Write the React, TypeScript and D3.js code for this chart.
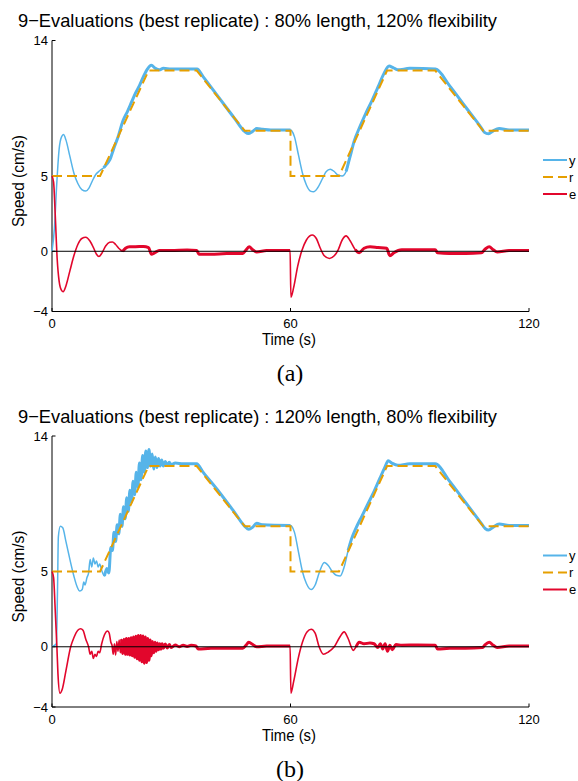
import React from 'react';
import * as d3 from 'd3';

type Pt = [number, number];

// reference speed r (same for both runs)
const refTrace: Pt[] = [
  [0, 5], [12.1, 5], [24.3, 12], [36.4, 12], [48.5, 8], [60, 8], [60, 5],
  [72.2, 5], [84.3, 12], [96.4, 12], [108.5, 8], [120, 8],
];

// (a) 80% length, 120% flexibility
const yTraceA: Pt[] = [
  [0, 0], [0.6, 1.5], [1.2, 4.5], [1.8, 6.8], [2.4, 7.6], [2.9, 7.75], [3.5, 7.4],
  [4.5, 6.3], [5.5, 5.2], [6.5, 4.5], [7.5, 4.1], [8.5, 4.0], [9.3, 4.2], [10.2, 4.7],
  [11.0, 5.1], [12.0, 5.35], [13.0, 5.55], [13.8, 5.8], [14.6, 6.1], [15.5, 6.8],
  [16.5, 7.5], [17.9, 8.7], [19.0, 9.3], [20.0, 9.9], [21.0, 10.5], [22.0, 11.0],
  [23.0, 11.6], [24.0, 12.1], [25.0, 12.35], [26.0, 12.15], [27, 12.05], [28, 12.15],
  [30, 12.1], [33, 12.1], [36.5, 12.1], [38, 11.6], [42, 10.2], [46, 8.8], [48.5, 7.95],
  [49.4, 7.82], [50.4, 7.95], [51.5, 8.15], [53, 8.1], [55, 8.05], [60, 8.05],
  [60.3, 8.0], [61, 7.6], [62, 6.4], [63, 5.2], [64, 4.4], [65, 4.0], [65.8, 3.95],
  [66.8, 4.2], [68, 4.8], [69, 5.3], [70, 5.45], [71, 5.3], [72, 5.05], [73, 5.0],
  [74, 5.3], [75, 6.3], [76, 7.3], [77.5, 8.3], [79, 9.2], [80.5, 10.0], [82, 10.9],
  [83.5, 11.8], [84.8, 12.3], [85.8, 12.2], [87, 12.05], [90, 12.15], [96.5, 12.1],
  [100, 11.0], [104, 9.6], [108, 8.2], [108.8, 7.9], [109.8, 7.8], [111, 8.0],
  [112.5, 8.15], [115, 8.05], [120, 8.05],
];

const eTraceA: Pt[] = [
  [0, 5], [0.4, 4.6], [0.8, 2.5], [1.3, -0.5], [1.8, -2.0], [2.4, -2.6], [2.8, -2.68],
  [3.5, -2.3], [4.5, -1.3], [5.5, -0.3], [6.5, 0.45], [7.5, 0.85], [8.5, 0.93],
  [9.5, 0.7], [10.5, 0.2], [11.2, -0.2], [11.8, -0.35], [12.5, -0.15], [13.5, 0.35],
  [14.5, 0.6], [15.2, 0.62], [16, 0.45], [17, 0.15], [17.8, 0.0], [18.5, 0.2],
  [19.5, 0.3], [21, 0.3], [23, 0.32], [24.3, 0.25], [25, -0.2], [25.8, -0.1],
  [27, 0.05], [30, 0.05], [34, 0.08], [36.4, 0.05], [37, -0.2], [40, -0.2],
  [44, -0.15], [48, -0.15], [48.7, 0.05], [49.6, 0.3], [50.5, 0.1], [51.5, -0.05],
  [54, 0.05], [59.9, 0.05],
  [60.1, -3.05], [60.8, -2.4], [61.8, -1.0], [62.8, 0.0], [64, 0.75], [65.5, 1.08],
  [66.5, 0.85], [67.5, 0.2], [68.5, -0.3], [69.8, -0.48], [71, -0.3], [72, 0.1],
  [73, 0.75], [74, 1.02], [75, 0.7], [76.3, 0.1], [77.3, -0.1], [78.5, 0.2], [80, 0.3],
  [82, 0.25], [84.2, 0.2], [85, -0.3], [86, -0.1], [88, 0.1], [92, 0.1], [96.4, 0.1],
  [97, -0.1], [100, -0.15], [104, -0.15], [108, -0.1], [109, 0.15], [110, 0.3],
  [111, 0.1], [112, -0.05], [115, 0.05], [120, 0.05],
];

// (b) 120% length, 80% flexibility
const yTraceB: Pt[] = [
  [0, 0], [1.1, 0.2], [1.4, 4.0], [1.6, 7.3], [2.1, 8.0], [2.7, 7.9], [3.5, 7.0],
  [4.5, 5.8], [5.5, 4.7], [6.3, 4.0], [7.0, 3.7], [7.6, 3.8], [8.0, 4.3], [8.3, 4.1],
  [8.8, 4.6], [9.2, 4.9], [9.6, 5.8], [10.0, 5.3], [10.4, 5.9], [10.8, 5.5],
  [11.2, 5.7], [11.6, 5.3], [12.0, 5.5], [12.6, 5.0], [13.2, 4.7], [13.8, 5.2],
  [14.3, 4.9], [14.8, 6.6], [15.2, 6.4], [15.6, 7.6], [16.0, 7.0], [16.4, 8.1],
  [16.8, 7.5], [17.2, 8.8], [17.6, 8.0], [18.0, 9.3], [18.4, 8.5], [18.8, 9.9],
  [19.2, 9.0], [19.6, 10.4], [20.0, 9.6], [20.4, 11.0], [20.8, 10.1], [21.2, 11.6],
  [21.6, 10.6], [22.0, 12.2], [22.4, 11.1], [22.8, 12.7], [23.2, 11.6], [23.6, 13.0],
  [24.0, 11.9], [24.4, 13.1], [24.8, 12.0], [25.2, 12.8], [25.6, 11.8], [26.0, 12.6],
  [26.4, 11.9], [26.8, 12.5], [27.2, 12.0], [27.6, 12.4], [28.0, 12.0], [28.5, 12.3],
  [29, 12.05], [29.5, 12.25], [30, 12.1], [31, 12.2], [33, 12.15], [36.4, 12.15],
  [38, 11.6], [42, 10.3], [46, 8.9], [48.5, 8.0], [49.5, 7.8], [50.5, 7.95],
  [51.5, 8.2], [53, 8.1], [60, 8.05],
  [60.3, 8.0], [61, 7.6], [62, 6.3], [63, 5.0], [64, 4.2], [65.2, 3.8], [66.2, 4.1],
  [67.2, 4.9], [68.5, 5.6], [69.5, 5.4], [70.5, 5.0], [71.5, 4.75], [72.5, 4.7],
  [73.5, 5.3], [74.5, 6.4], [75.4, 7.2], [76.5, 7.9], [78, 8.7], [79.5, 9.5],
  [81, 10.3], [82.5, 11.2], [83.7, 11.9], [84.6, 12.35], [85.5, 12.2], [87, 12.05],
  [90, 12.15], [96.4, 12.15], [100, 11.0], [104, 9.6], [108, 8.2], [109, 7.85],
  [109.8, 7.75], [111, 7.95], [112.5, 8.15], [115, 8.05], [120, 8.05],
];

const eTraceB: Pt[] = [
  [0, 5], [0.4, 4.6], [0.8, 2.5], [1.2, 0.2], [1.5, -1.8], [2.0, -3.08], [2.6, -2.8],
  [3.5, -1.6], [4.7, 0], [5.5, 0.6], [6.5, 1.1], [7.2, 1.2], [7.8, 1.1], [8.5, 0.5],
  [9.2, 0.0], [9.6, -0.5], [10.0, -0.3], [10.4, -0.77], [10.8, -0.5], [11.2, -0.65],
  [11.6, -0.3], [12.0, -0.4], [12.5, 0.2], [13.2, 0.8], [14.0, 1.05], [14.4, 0.9],
  [14.8, 0.3], [15.1, 0.1], [15.4, -0.5], [15.7, 0.2], [16.0, -0.55], [16.3, 0.35],
  [16.6, -0.3], [16.9, 0.45], [17.2, -0.4], [17.5, 0.5], [17.8, -0.45], [18.1, 0.5],
  [18.4, -0.5], [18.7, 0.55], [19.0, -0.5], [19.3, 0.55], [19.6, -0.55], [19.9, 0.6],
  [20.2, -0.6], [20.5, 0.65], [20.8, -0.7], [21.1, 0.7], [21.4, -0.8], [21.7, 0.75],
  [22.0, -0.9], [22.3, 0.75], [22.6, -1.0], [22.9, 0.72], [23.2, -1.1], [23.5, 0.65],
  [23.8, -1.05], [24.1, 0.55], [24.4, -0.9], [24.7, 0.45], [25.0, -0.6], [25.3, 0.35],
  [25.6, -0.4], [25.9, 0.3], [26.2, -0.3], [26.5, 0.25], [26.8, -0.2], [27.1, 0.2],
  [27.4, -0.15], [27.7, 0.2], [28, -0.1], [28.5, 0.18], [29, -0.08], [29.5, 0.15],
  [30, -0.05], [31, 0.12], [32, 0.0], [33, 0.1], [34, 0.02], [35, 0.1], [36.2, 0.05],
  [36.8, -0.15], [40, -0.1], [44, -0.1], [48, -0.1], [48.8, 0.1], [49.5, 0.3],
  [50.5, 0.15], [51.5, 0.0], [54, 0.05], [59.9, 0.05],
  [60.1, -3.08], [60.8, -2.3], [62, -0.7], [63, 0.3], [64.2, 1.0], [65.2, 1.16],
  [66.2, 0.9], [67.2, 0.0], [68.3, -0.5], [69.5, -0.35], [71, 0.0], [72.3, 0.6],
  [73.5, 0.99], [74.5, 0.55], [75.8, -0.24], [76.5, 0.0], [77.3, 0.3], [78.5, 0.2],
  [80, 0.25], [81, 0.2], [82, -0.05], [82.6, 0.2], [83.2, -0.15], [83.8, 0.2],
  [84.4, -0.3], [85, 0.1], [85.6, -0.2], [86.5, 0.15], [88, 0.1], [92, 0.12],
  [96.4, 0.1], [97, -0.15], [100, -0.1], [104, -0.1], [108.3, -0.05], [109, 0.15],
  [110, 0.3], [111, 0.1], [112, -0.05], [115, 0.05], [120, 0.05],
];

const xTicks = [0, 60, 120];
const yTicks = [-4, 0, 5, 14];
const legendLabels = ['y', 'r', 'e'];

const BLUE = '#56B4E9';
const ORANGE = '#E69F00';
const RED = '#E2062C';
const SANS = '"Liberation Sans", Arial, Helvetica, sans-serif';

// thick (noisy) parts of the traces
const yBand = (t: number) => (t >= 13 && t <= 60) || t >= 74;
const eBand = (t: number) => (t >= 17.5 && t <= 60) || t >= 76;

const Panel = ({ dy, title, tag, yTrace, eTrace }:
  { dy: number; title: string; tag: string; yTrace: Pt[]; eTrace: Pt[] }) => {
  const x = d3.scaleLinear().domain([0, 120]).range([52, 529]);
  const y = d3.scaleLinear().domain([-4, 14]).range([311.5 + dy, 40.5 + dy]);
  const line = d3.line<Pt>().x((d) => x(d[0])).y((d) => y(d[1]));
  const smooth = d3.line<Pt>().curve(d3.curveMonotoneX).x((d) => x(d[0])).y((d) => y(d[1]));
  const bandY = smooth.copy ? smooth : smooth;
  const thickY = d3.line<Pt>().curve(d3.curveMonotoneX).defined((d) => yBand(d[0]))
    .x((d) => x(d[0])).y((d) => y(d[1]));
  const thickE = d3.line<Pt>().curve(d3.curveMonotoneX).defined((d) => eBand(d[0]))
    .x((d) => x(d[0])).y((d) => y(d[1]));
  const [x0, x1] = x.range();
  const [yb, yt] = y.range();
  const legendY = [160 + dy, 177 + dy, 194 + dy];
  const legendColor = [BLUE, ORANGE, RED];

  return (
    <g>
      <text x={18} y={27 + dy} fontFamily={SANS} fontSize={19} textLength={479}
        lengthAdjust="spacingAndGlyphs">{title}</text>

      {/* axes */}
      <line x1={x0} x2={x0} y1={yt} y2={yb} stroke="#000" strokeWidth={1} />
      <line x1={x0} x2={x1} y1={yb} y2={yb} stroke="#000" strokeWidth={1} />
      {yTicks.map((v) => (
        <g key={'y' + v}>
          <line x1={x0} x2={x0 + 3.5} y1={y(v)} y2={y(v)} stroke="#000" />
          <text x={48} y={y(v)} dy="0.35em" textAnchor="end" fontFamily={SANS}
            fontSize={13}>{v < 0 ? '\u2212' + Math.abs(v) : v}</text>
        </g>
      ))}
      {xTicks.map((v) => (
        <g key={'x' + v}>
          <line x1={x(v)} x2={x(v)} y1={yb} y2={yb - 3.5} stroke="#000" />
          <text x={x(v)} y={328 + dy} textAnchor="middle" fontFamily={SANS}
            fontSize={13}>{v}</text>
        </g>
      ))}
      <text x={289} y={345 + dy} textAnchor="middle" fontFamily={SANS} fontSize={16}
        textLength={54} lengthAdjust="spacingAndGlyphs">Time (s)</text>
      <text transform={`translate(23.5,${181 + dy}) rotate(-90)`} textAnchor="middle"
        fontFamily={SANS} fontSize={16} textLength={92}
        lengthAdjust="spacingAndGlyphs">Speed (cm/s)</text>
      <text x={290} y={381 + dy} textAnchor="middle"
        fontFamily='"Liberation Serif", "Times New Roman", serif' fontSize={24}>{tag}</text>

      {/* series */}
      <path d={bandY(yTrace) || ''} fill="none" stroke={BLUE} strokeWidth={1.5} />
      <path d={thickY(yTrace) || ''} fill="none" stroke={BLUE} strokeWidth={3} />
      <path d={line(refTrace) || ''} fill="none" stroke={ORANGE} strokeWidth={2}
        strokeDasharray="10,5" />
      <path d={smooth(eTrace) || ''} fill="none" stroke={RED} strokeWidth={1.6} />
      <path d={thickE(eTrace) || ''} fill="none" stroke={RED} strokeWidth={3} />
      <line x1={x0} x2={x1} y1={y(0)} y2={y(0)} stroke="#000" strokeWidth={1} />

      {/* legend */}
      {legendLabels.map((lab, i) => (
        <g key={lab}>
          <line x1={543} x2={567} y1={legendY[i]} y2={legendY[i]} stroke={legendColor[i]}
            strokeWidth={2} strokeDasharray={lab === 'r' ? '10,5' : undefined} />
          <text x={569} y={legendY[i]} dy="0.35em" fontFamily={SANS} fontSize={13}>{lab}</text>
        </g>
      ))}
    </g>
  );
};

export default function App() {
  return (
    <svg width={578} height={781} style={{ position: 'absolute', left: 0, top: 0, background: '#fff' }}>
      <rect width={578} height={781} fill="#fff" />
      <Panel dy={0} tag="(a)" yTrace={yTraceA} eTrace={eTraceA}
        title={'9\u2212Evaluations (best replicate) : 80% length, 120% flexibility'} />
      <Panel dy={395.5} tag="(b)" yTrace={yTraceB} eTrace={eTraceB}
        title={'9\u2212Evaluations (best replicate) : 120% length, 80% flexibility'} />
    </svg>
  );
}
